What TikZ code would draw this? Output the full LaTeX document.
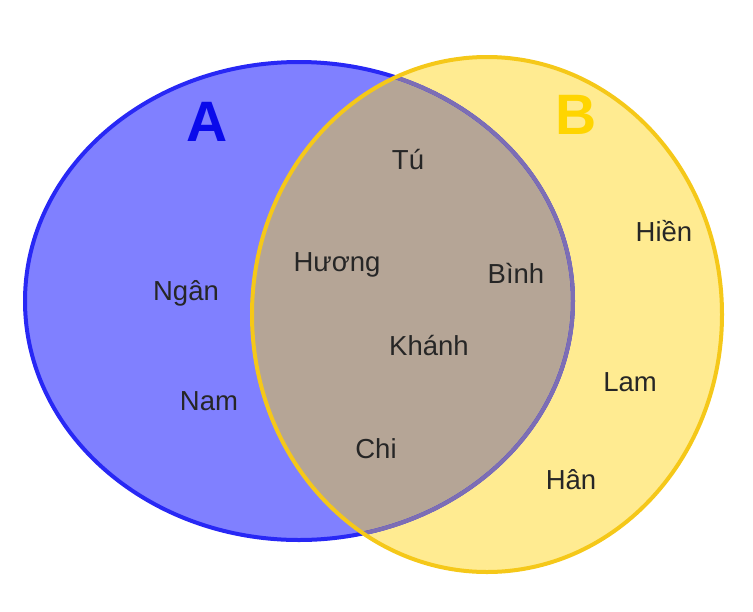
\documentclass[tikz,border=0pt]{standalone}
\usepackage{fontspec}
\setmainfont{Liberation Sans}
\definecolor{afill}{RGB}{128,128,255}
\definecolor{aline}{RGB}{40,40,245}
\definecolor{alabel}{RGB}{10,10,235}
\definecolor{bfill}{RGB}{255,235,145}
\definecolor{bline}{RGB}{245,200,25}
\definecolor{blabel}{RGB}{255,213,0}
\definecolor{abfill}{RGB}{181,165,150}
\definecolor{abline}{RGB}{125,110,180}
\definecolor{nametext}{RGB}{38,38,38}
\begin{document}
\begin{tikzpicture}[x=1pt,y=-1pt,
  setlabel/.style={font=\fontsize{57}{60}\selectfont\bfseries, inner sep=0pt},
  person/.style={font=\fontsize{27.5}{30}\selectfont, text=nametext, inner sep=0pt},
  setedge/.style={line width=4pt}]
\useasboundingbox (0,0) rectangle (753,611);
\def\ellA{(299,301) ellipse [x radius=274, y radius=239]}
\def\ellB{(487,314.5) ellipse [x radius=235, y radius=257.5]}
\fill[afill] \ellA;
\fill[bfill] \ellB;
\begin{scope}
  \clip \ellA;
  \fill[abfill] \ellB;
\end{scope}
\draw[setedge, aline] \ellA;
\begin{scope}
  \clip \ellB;
  \draw[setedge, abline] \ellA;
\end{scope}
\draw[setedge, bline] \ellB;
\node[setlabel, text=alabel] (A) at (207,122) {A};
\node[setlabel, text=blabel] (B) at (576,115) {B};
\node[person] (tu) at (408,160) {Tú};
\node[person] (huong) at (337,265) {Hương};
\node[person] (binh) at (516,273) {Bình};
\node[person] (khanh) at (429,346) {Khánh};
\node[person] (chi) at (376,449) {Chi};
\node[person] (ngan) at (186,293) {Ngân};
\node[person] (nam) at (209,401) {Nam};
\node[person] (hien) at (664,231) {Hiền};
\node[person] (lam) at (630,382) {Lam};
\node[person] (han) at (571,480) {Hân};
\end{tikzpicture}
\end{document}
